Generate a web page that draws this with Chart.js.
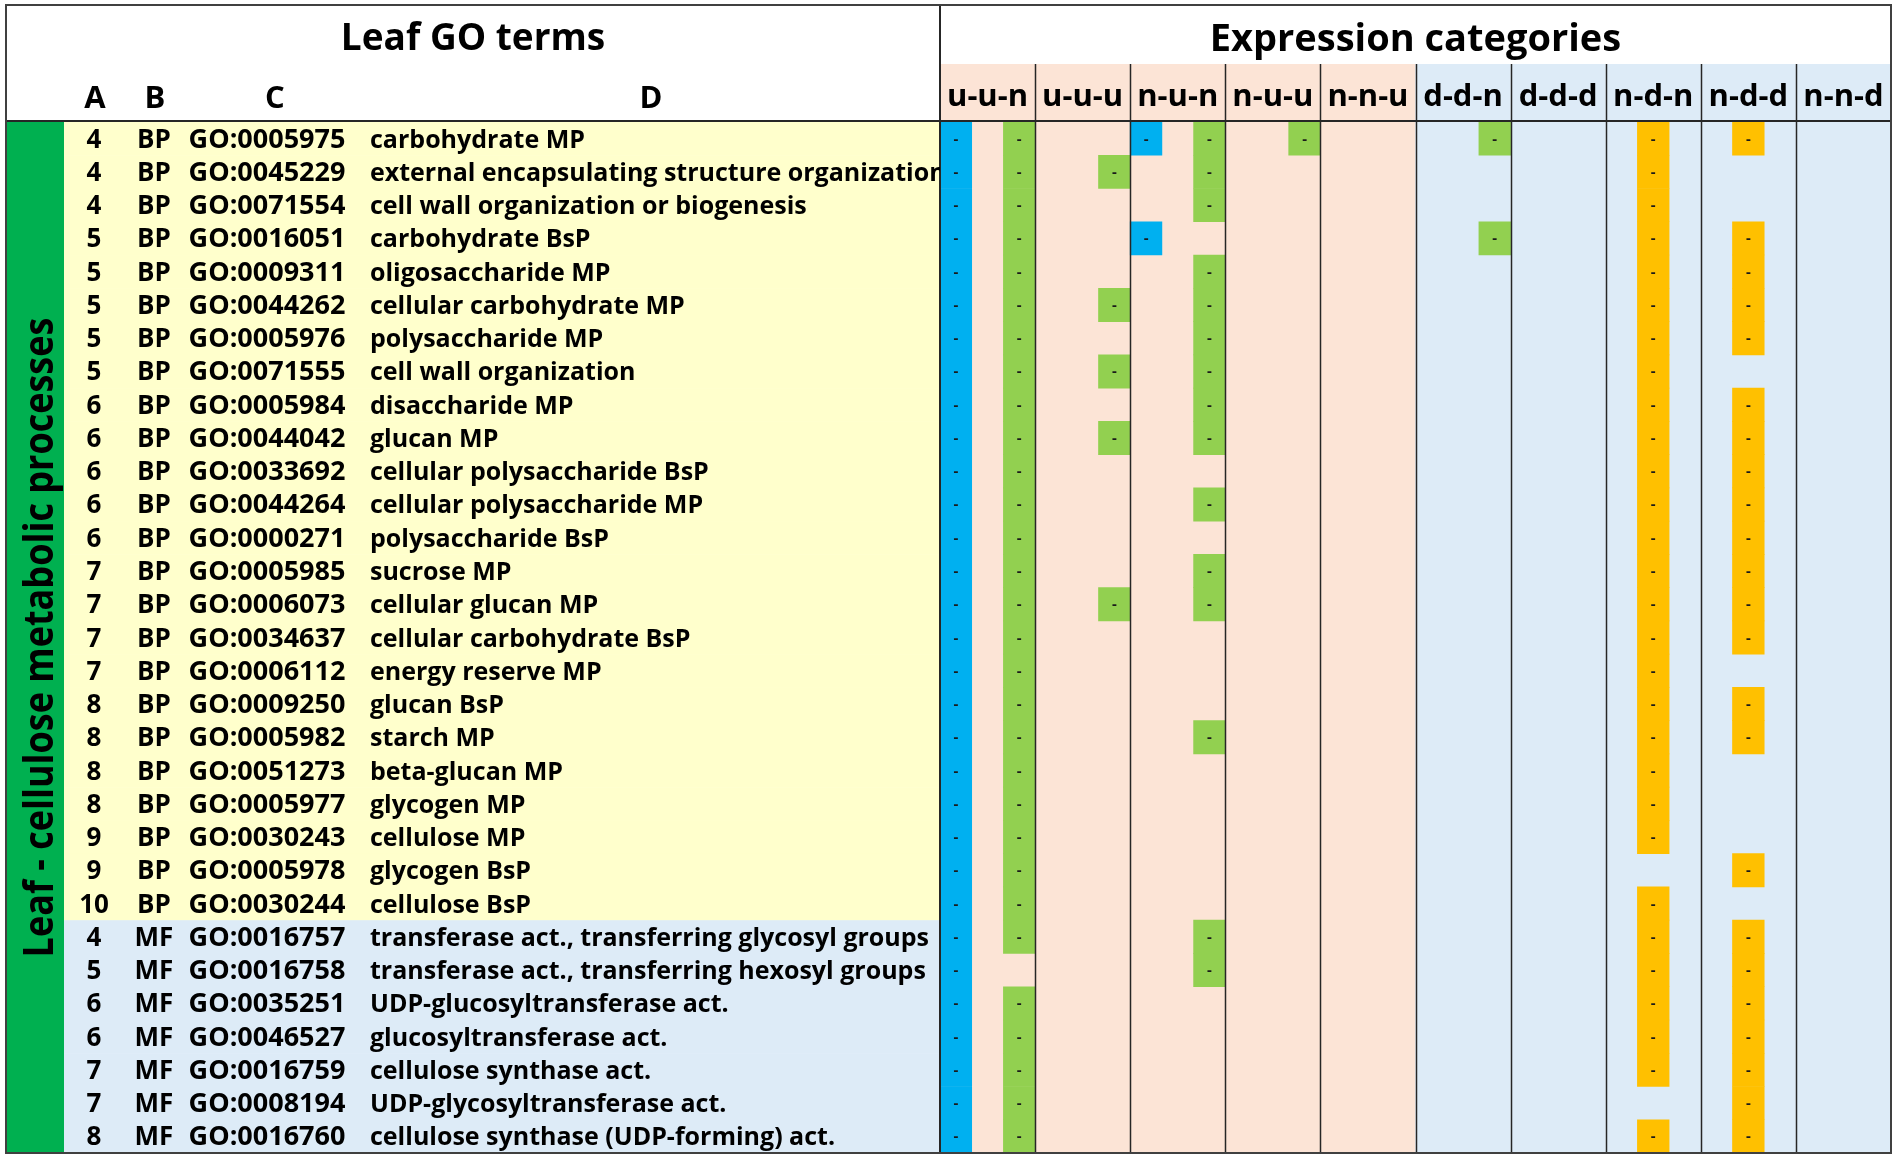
<!DOCTYPE html>
<html>
<head>
<meta charset="utf-8">
<script src="https://cdn.jsdelivr.net/npm/chart.js@4.4.1/dist/chart.umd.min.js"></script>
<style>
	html, body { margin: 0; padding: 0; background: #fff; }
	#wrap { width: 1900px; height: 1162px; }
</style>
</head>
<body>
<div id="wrap"><canvas id="chartGO" width="1900" height="1162"></canvas></div>
<script>
// table columns A-D
const levels = [4, 4, 4, 5, 5, 5, 5, 5, 6, 6, 6, 6, 6, 7, 7, 7, 7, 8, 8, 8, 8, 9, 9, 10, 4, 5, 6, 6, 7, 7, 8];
const ontology = ['BP', 'BP', 'BP', 'BP', 'BP', 'BP', 'BP', 'BP', 'BP', 'BP', 'BP', 'BP', 'BP', 'BP', 'BP', 'BP',
	'BP', 'BP', 'BP', 'BP', 'BP', 'BP', 'BP', 'BP', 'MF', 'MF', 'MF', 'MF', 'MF', 'MF', 'MF'];
const goIds = ['GO:0005975', 'GO:0045229', 'GO:0071554', 'GO:0016051', 'GO:0009311', 'GO:0044262', 'GO:0005976',
	'GO:0071555', 'GO:0005984', 'GO:0044042', 'GO:0033692', 'GO:0044264', 'GO:0000271', 'GO:0005985', 'GO:0006073',
	'GO:0034637', 'GO:0006112', 'GO:0009250', 'GO:0005982', 'GO:0051273', 'GO:0005977', 'GO:0030243', 'GO:0005978',
	'GO:0030244', 'GO:0016757', 'GO:0016758', 'GO:0035251', 'GO:0046527', 'GO:0016759', 'GO:0008194', 'GO:0016760'];
const terms = [
	'carbohydrate MP',
	'external encapsulating structure organization',
	'cell wall organization or biogenesis',
	'carbohydrate BsP',
	'oligosaccharide MP',
	'cellular carbohydrate MP',
	'polysaccharide MP',
	'cell wall organization',
	'disaccharide MP',
	'glucan MP',
	'cellular polysaccharide BsP',
	'cellular polysaccharide MP',
	'polysaccharide BsP',
	'sucrose MP',
	'cellular glucan MP',
	'cellular carbohydrate BsP',
	'energy reserve MP',
	'glucan BsP',
	'starch MP',
	'beta-glucan MP',
	'glycogen MP',
	'cellulose MP',
	'glycogen BsP',
	'cellulose BsP',
	'transferase act., transferring glycosyl groups',
	'transferase act., transferring hexosyl groups',
	'UDP-glucosyltransferase act.',
	'glucosyltransferase act.',
	'cellulose synthase act.',
	'UDP-glycosyltransferase act.',
	'cellulose synthase (UDP-forming) act.'
];
const categories = ['u-u-n', 'u-u-u', 'n-u-n', 'n-u-u', 'n-n-u', 'd-d-n', 'd-d-d', 'n-d-n', 'n-d-d', 'n-n-d'];

// 1 = term present in that sub-column (one flag per row, top to bottom)
const uunBlue   = [1,1,1,1,1,1,1,1,1,1, 1,1,1,1,1,1,1,1,1,1, 1,1,1,1,1,1,1,1,1,1, 1];
const uunGreen  = [1,1,1,1,1,1,1,1,1,1, 1,1,1,1,1,1,1,1,1,1, 1,1,1,1,1,0,1,1,1,1, 1];
const uuuGreen  = [0,1,0,0,0,1,0,1,0,1, 0,0,0,0,1,0,0,0,0,0, 0,0,0,0,0,0,0,0,0,0, 0];
const nunBlue   = [1,0,0,1,0,0,0,0,0,0, 0,0,0,0,0,0,0,0,0,0, 0,0,0,0,0,0,0,0,0,0, 0];
const nunGreen  = [1,1,1,0,1,1,1,1,1,1, 0,1,0,1,1,0,0,0,1,0, 0,0,0,0,1,1,0,0,0,0, 0];
const nuuGreen  = [1,0,0,0,0,0,0,0,0,0, 0,0,0,0,0,0,0,0,0,0, 0,0,0,0,0,0,0,0,0,0, 0];
const ddnGreen  = [1,0,0,1,0,0,0,0,0,0, 0,0,0,0,0,0,0,0,0,0, 0,0,0,0,0,0,0,0,0,0, 0];
const ndnOrange = [1,1,1,1,1,1,1,1,1,1, 1,1,1,1,1,1,1,1,1,1, 1,1,0,1,1,1,1,1,1,0, 1];
const nddOrange = [1,0,0,1,1,1,1,0,1,1, 1,1,1,1,1,1,0,1,1,0, 0,0,1,0,1,1,1,1,1,1, 1];

const BLUE = '#00b0f0';
const ORANGE = '#ffc000';
const GREEN = '#92d050';
const FONT = '"Open Sans", "DejaVu Sans", sans-serif';

// sub-column slot: 0 left, 1 middle, 2 right
const series = [
	{ flags: uunBlue, cat: 'u-u-n', slot: 0, color: BLUE },
	{ flags: uunGreen, cat: 'u-u-n', slot: 2, color: GREEN },
	{ flags: uuuGreen, cat: 'u-u-u', slot: 2, color: GREEN },
	{ flags: nunBlue, cat: 'n-u-n', slot: 0, color: BLUE },
	{ flags: nunGreen, cat: 'n-u-n', slot: 2, color: GREEN },
	{ flags: nuuGreen, cat: 'n-u-u', slot: 2, color: GREEN },
	{ flags: ddnGreen, cat: 'd-d-n', slot: 2, color: GREEN },
	{ flags: ndnOrange, cat: 'n-d-n', slot: 1, color: ORANGE },
	{ flags: nddOrange, cat: 'n-d-d', slot: 1, color: ORANGE }
];

function buildDataset(s) {
	let start = categories.indexOf(s.cat) * 3 + s.slot;
	let data = [];
	s.flags.forEach((f, i) => {
		if (f) data.push({ x: [start, start + 1], y: terms[i] });
	});
	return {
		label: s.cat + ' ' + s.slot,
		data: data,
		backgroundColor: s.color,
		borderWidth: 0,
		barPercentage: 1,
		categoryPercentage: 1,
		grouped: false
	};
}

function text(ctx, str, x, y, size, align) {
	ctx.font = 'bold ' + size + 'px ' + FONT;
	ctx.textAlign = align || 'center';
	ctx.textBaseline = 'alphabetic';
	ctx.fillText(str, x, y);
}

const tablePlugin = {
	id: 'goTable',
	beforeDraw: (chart) => {
		const {ctx, chartArea: area, scales: {x, y}} = chart;
		const rowH = (area.bottom - area.top) / terms.length;
		ctx.save();
		ctx.fillStyle = '#fff';
		ctx.fillRect(0, 0, chart.width, chart.height);
		// term rows
		terms.forEach((t, i) => {
			let top = y.getPixelForValue(i) - rowH / 2;
			ctx.fillStyle = ontology[i] === 'BP' ? '#ffffcc' : '#ddebf7';
			ctx.fillRect(64, top, area.left - 64, rowH + 0.5);
		});
		// group band
		ctx.fillStyle = '#00b050';
		ctx.fillRect(6, area.top, 58, area.bottom - area.top);
		// category columns
		categories.forEach((c, k) => {
			let x0 = x.getPixelForValue(k * 3);
			let x1 = x.getPixelForValue(k * 3 + 3);
			ctx.fillStyle = k < 5 ? '#fce4d6' : '#ddebf7';
			ctx.fillRect(x0, 64, x1 - x0, area.bottom - 64);
		});
		ctx.restore();
	},
	afterDatasetsDraw: (chart) => {
		const {ctx, chartArea: area, scales: {x, y}} = chart;
		ctx.save();
		ctx.fillStyle = '#1a1a1a';
		// dash inside every marked cell
		chart.data.datasets.forEach((ds, d) => {
			chart.getDatasetMeta(d).data.forEach(el => {
				text(ctx, '-', (el.x + el.base) / 2, el.y + 5, 15);
			});
		});

		// lines
		ctx.strokeStyle = '#262626';
		ctx.lineWidth = 1.5;
		categories.forEach((c, k) => {
			if (k === 0) return;
			let px = Math.round(x.getPixelForValue(k * 3)) + 0.5;
			ctx.beginPath();
			ctx.moveTo(px, 64);
			ctx.lineTo(px, area.bottom);
			ctx.stroke();
		});
		ctx.lineWidth = 2;
		ctx.beginPath();
		ctx.moveTo(area.left, 5);
		ctx.lineTo(area.left, area.bottom);
		ctx.moveTo(6, area.top - 1);
		ctx.lineTo(area.right, area.top - 1);
		ctx.stroke();
		ctx.strokeStyle = '#404040';
		ctx.strokeRect(6, 5, area.right - 6, area.bottom - 5);

		// headers
		ctx.fillStyle = '#000';
		text(ctx, 'Leaf GO terms', (6 + area.left) / 2, 50, 37);
		text(ctx, 'Expression categories', (area.left + area.right) / 2, 51, 38);
		text(ctx, 'A', 95, 108, 31);
		text(ctx, 'B', 155, 108, 31);
		text(ctx, 'C', 275, 108, 31);
		text(ctx, 'D', 651, 108, 31);
		categories.forEach((c, k) => {
			text(ctx, c, x.getPixelForValue(k * 3 + 1.5), 106, 31);
		});

		// term rows
		terms.forEach((t, i) => {
			let base = y.getPixelForValue(i) + 9;
			text(ctx, String(levels[i]), 94, base, 26);
			text(ctx, ontology[i], 154, base, 26);
			text(ctx, goIds[i], 267, base, 27);
			ctx.save();
			ctx.beginPath();
			ctx.rect(64, area.top, area.left - 64, area.bottom - area.top);
			ctx.clip();
			text(ctx, t, 370, base, 25, 'left');
			ctx.restore();
		});

		// group label in the band
		ctx.save();
		ctx.translate(53, (area.top + area.bottom) / 2);
		ctx.rotate(-Math.PI / 2);
		ctx.scale(1, 1.15);
		text(ctx, 'Leaf - cellulose metabolic processes', 0, 0, 36);
		ctx.restore();
		ctx.restore();
	}
};

const chartGO = document.getElementById('chartGO').getContext('2d');

let chartGOConfig = {
	type: 'bar',
	data: {
		labels: terms,
		datasets: series.map(buildDataset)
	},
	options: {
		indexAxis: 'y',
		responsive: false,
		devicePixelRatio: 1,
		animation: false,
		layout: {
			padding: {
				top: 122,
				left: 940,
				right: 9,
				bottom: 9
			}
		},
		scales: {
			x: {
				type: 'linear',
				min: 0,
				max: 30,
				display: false
			},
			y: {
				type: 'category',
				display: false,
				offset: true
			}
		},
		plugins: {
			legend: {
				display: false
			},
			tooltip: {
				enabled: false
			}
		}
	},
	plugins: [tablePlugin]
};

new Chart(chartGO, chartGOConfig);
</script>
</body>
</html>
